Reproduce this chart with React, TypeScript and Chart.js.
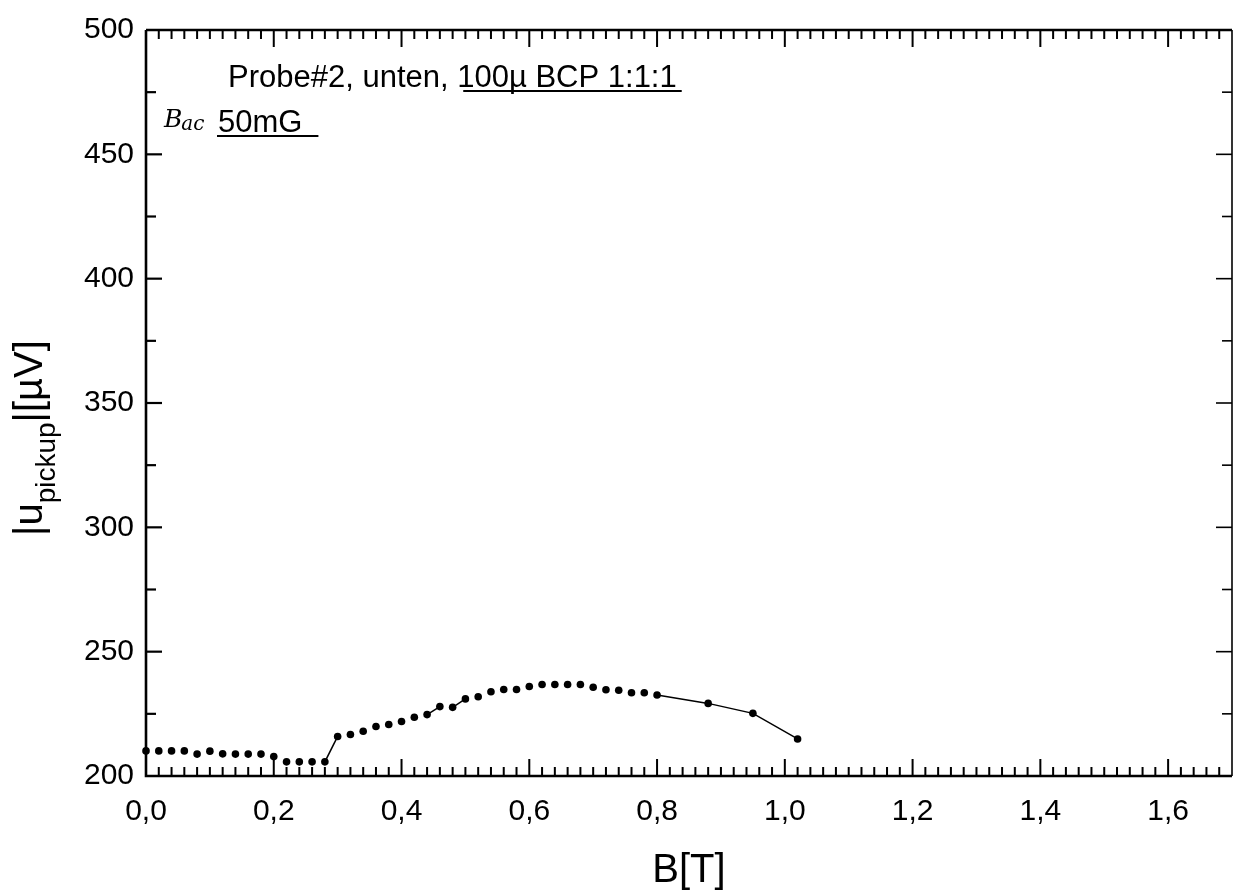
import React, { useEffect, useRef } from "react";
import { Chart, registerables } from "chart.js";

Chart.register(...registerables);

// Magnetic field B [T] of each measurement
const B_FIELD = [
  0.0, 0.02, 0.04, 0.06, 0.08, 0.1, 0.12, 0.14, 0.16, 0.18,
  0.2, 0.22, 0.24, 0.26, 0.28, 0.3, 0.32, 0.34, 0.36, 0.38,
  0.4, 0.42, 0.44, 0.46, 0.48, 0.5, 0.52, 0.54, 0.56, 0.58,
  0.6, 0.62, 0.64, 0.66, 0.68, 0.7, 0.72, 0.74, 0.76, 0.78,
  0.8, 0.88, 0.95, 1.02,
];

// Pickup voltage |u_pickup| [µV]
const U_PICKUP = [
  210.1, 210.1, 210.1, 210.1, 208.8, 210.0, 208.9, 208.8, 208.8, 208.8,
  207.8, 205.7, 205.7, 205.7, 205.7, 215.9, 216.7, 218.0, 219.9, 220.7,
  221.9, 223.6, 224.7, 227.9, 227.6, 231.0, 231.9, 233.9, 234.8, 234.8,
  236.0, 236.8, 236.8, 236.8, 236.8, 235.7, 234.7, 234.5, 233.5, 233.5,
  232.6, 229.2, 225.2, 214.9,
];

const X_MIN = 0;
const X_MAX = 1.7;
const X_MAJOR = 0.2;
const X_MINOR = 0.02;
const Y_MIN = 200;
const Y_MAX = 500;
const Y_MAJOR = 50;
const Y_MINOR = 25;

const X_TITLE = "B[T]";
const Y_TITLE_MAIN = "|u";
const Y_TITLE_SUB = "pickup";
const Y_TITLE_END = "|[µV]";
const NOTE_PLAIN = "Probe#2, unten, ";
const NOTE_UNDERLINED = "100µ BCP 1:1:1";
const NOTE_FIELD = "50mG";
const NOTE_HAND_MAIN = "B";
const NOTE_HAND_SUB = "ac";

const FONT = "'Liberation Sans', Arial, Helvetica, sans-serif";

const framePlugin = {
  id: "originFrame",
  afterDraw(chart: any) {
    const { ctx, chartArea, scales } = chart;
    const { left, right, top, bottom } = chartArea;
    const xs = scales.x;
    const ys = scales.y;
    ctx.save();
    ctx.strokeStyle = "#000";
    ctx.lineCap = "butt";

    // frame
    ctx.lineWidth = 2.6;
    ctx.beginPath();
    ctx.moveTo(left, top);
    ctx.lineTo(left, bottom);
    ctx.lineTo(right, bottom);
    ctx.stroke();
    ctx.lineWidth = 2.4;
    ctx.beginPath();
    ctx.moveTo(left, top);
    ctx.lineTo(right, top);
    ctx.stroke();
    ctx.lineWidth = 1.6;
    ctx.beginPath();
    ctx.moveTo(right, top);
    ctx.lineTo(right, bottom);
    ctx.stroke();

    // inward ticks on x (bottom and top)
    ctx.lineWidth = 2;
    const nX = Math.round((X_MAX - X_MIN) / X_MINOR);
    for (let i = 1; i < nX; i++) {
      const v = X_MIN + i * X_MINOR;
      const isMajor = Math.abs(v / X_MAJOR - Math.round(v / X_MAJOR)) < 1e-6;
      const len = isMajor ? 17 : 9;
      const px = xs.getPixelForValue(v);
      ctx.beginPath();
      ctx.moveTo(px, bottom);
      ctx.lineTo(px, bottom - len);
      ctx.moveTo(px, top);
      ctx.lineTo(px, top + len);
      ctx.stroke();
    }

    // inward ticks on y (left and right)
    const nY = Math.round((Y_MAX - Y_MIN) / Y_MINOR);
    for (let i = 1; i < nY; i++) {
      const v = Y_MIN + i * Y_MINOR;
      const isMajor = v % Y_MAJOR === 0;
      const len = isMajor ? 16 : 10;
      const py = ys.getPixelForValue(v);
      ctx.lineWidth = 2.2;
      ctx.beginPath();
      ctx.moveTo(left, py);
      ctx.lineTo(left + len, py);
      ctx.stroke();
      ctx.lineWidth = 1.6;
      ctx.beginPath();
      ctx.moveTo(right, py);
      ctx.lineTo(right - len, py);
      ctx.stroke();
    }

    ctx.fillStyle = "#000";
    ctx.textBaseline = "alphabetic";

    // x axis title
    ctx.font = `40px ${FONT}`;
    ctx.textAlign = "center";
    ctx.fillText(X_TITLE, 689, 882);

    // y axis title with subscript, rotated
    ctx.save();
    ctx.translate(42, 536);
    ctx.rotate(-Math.PI / 2);
    ctx.textAlign = "left";
    ctx.font = `40px ${FONT}`;
    let cx = 0;
    ctx.fillText(Y_TITLE_MAIN, cx, 0);
    cx += ctx.measureText(Y_TITLE_MAIN).width;
    ctx.font = `28px ${FONT}`;
    ctx.fillText(Y_TITLE_SUB, cx, 13);
    cx += ctx.measureText(Y_TITLE_SUB).width;
    ctx.font = `40px ${FONT}`;
    ctx.fillText(Y_TITLE_END, cx, 0);
    ctx.restore();

    // annotation
    ctx.textAlign = "left";
    ctx.font = `31px ${FONT}`;
    const nx = 228;
    ctx.fillText(NOTE_PLAIN, nx, 87);
    const ux = nx + ctx.measureText(NOTE_PLAIN).width;
    ctx.fillText(NOTE_UNDERLINED, ux, 87);
    const uw = ctx.measureText(NOTE_UNDERLINED).width;
    ctx.lineWidth = 2.2;
    ctx.beginPath();
    ctx.moveTo(ux + 6, 91);
    ctx.lineTo(ux + uw + 5, 91);
    ctx.stroke();

    ctx.fillText(NOTE_FIELD, 218, 132);
    const fw = ctx.measureText(NOTE_FIELD).width;
    ctx.lineWidth = 1.8;
    ctx.beginPath();
    ctx.moveTo(217, 136);
    ctx.lineTo(218 + fw + 16, 136);
    ctx.stroke();

    // handwritten field label
    ctx.font = `italic 25px 'DejaVu Serif', serif`;
    ctx.fillText(NOTE_HAND_MAIN, 164, 127);
    const hw = ctx.measureText(NOTE_HAND_MAIN).width;
    ctx.font = `italic 20px 'DejaVu Serif', serif`;
    ctx.fillText(NOTE_HAND_SUB, 163 + hw, 130);

    ctx.restore();
  },
};

export default function App() {
  const canvasRef = useRef<HTMLCanvasElement | null>(null);

  useEffect(() => {
    if (!canvasRef.current) return;
    const points = B_FIELD.map((b, i) => ({ x: b, y: U_PICKUP[i] }));
    const chart = new Chart(canvasRef.current, {
      type: "scatter",
      data: {
        datasets: [
          {
            data: points,
            showLine: true,
            borderWidth: 1.5,
            borderColor: "#000",
            pointRadius: 3.8,
            pointBackgroundColor: "#000",
            pointBorderColor: "#000",
            pointBorderWidth: 0,
            clip: false as any,
            segment: {
              // connecting lines only show where neighbouring symbols are far apart
              borderColor: (c: any) =>
                Math.hypot(c.p1.x - c.p0.x, c.p1.y - c.p0.y) > 15
                  ? "#000"
                  : "rgba(0,0,0,0)",
            },
          } as any,
        ],
      },
      options: {
        animation: false,
        responsive: false,
        events: [],
        layout: { padding: { top: 23, right: 8, left: 0, bottom: 0 } },
        plugins: {
          legend: { display: false },
          tooltip: { enabled: false },
          title: { display: false },
        },
        scales: {
          x: {
            type: "linear",
            min: X_MIN,
            max: X_MAX,
            grid: { display: false, drawTicks: false },
            border: { display: false },
            ticks: {
              stepSize: X_MAJOR,
              includeBounds: false,
              padding: 18,
              color: "#000",
              font: { family: FONT, size: 30 },
              callback: (v: any) => Number(v).toFixed(1).replace(".", ","),
            },
            afterFit: (s: any) => {
              s.height = 118;
            },
          },
          y: {
            type: "linear",
            min: Y_MIN,
            max: Y_MAX,
            grid: { display: false, drawTicks: false },
            border: { display: false },
            ticks: {
              stepSize: Y_MAJOR,
              padding: 12,
              color: "#000",
              font: { family: FONT, size: 30 },
              callback: (v: any) => String(v),
            },
            afterFit: (s: any) => {
              s.width = 146;
            },
          },
        },
      },
      plugins: [framePlugin],
    });
    return () => chart.destroy();
  }, []);

  return (
    <div style={{ position: "absolute", left: 0, top: 0, width: 1240, height: 894, background: "#fff" }}>
      <canvas ref={canvasRef} width={1240} height={894} />
    </div>
  );
}
